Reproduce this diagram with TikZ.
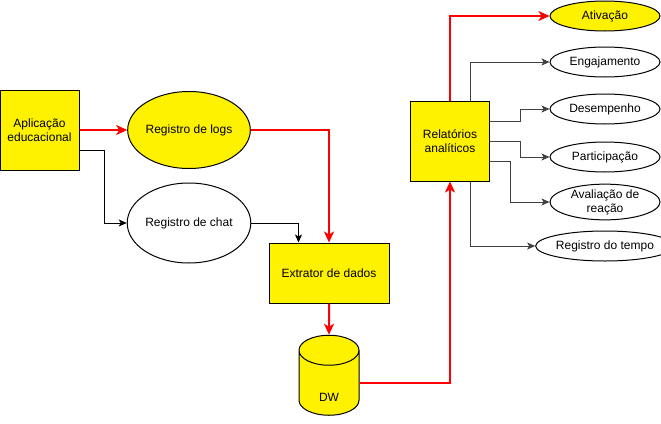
\documentclass[tikz,border=0pt]{standalone}
\usepackage{fontspec}
\setmainfont{Liberation Sans}
\usetikzlibrary{arrows.meta,shapes.geometric,calc}

\begin{document}
\begin{tikzpicture}[x=1pt, y=-1pt,
    txt/.style={align=center, inner sep=0pt, font=\fontsize{12}{14}\selectfont},
    ybox/.style={txt, rectangle, draw, fill=yellow, line width=1pt},
    yell/.style={txt, ellipse, draw, fill=yellow, line width=1pt},
    well/.style={txt, ellipse, draw, fill=white, line width=1pt, minimum width=110, minimum height=30},
    redline/.style={draw=red, line width=2pt, -{Stealth[length=11pt, width=10pt, inset=3pt]}},
    blkline/.style={draw=black, line width=1pt, -{Stealth[length=8pt, width=7pt, inset=2pt]}},
    gryline/.style={draw=black!75, line width=1pt, -{Stealth[length=8pt, width=7pt, inset=2pt]}}
]
    \useasboundingbox (0,0) rectangle (661,423);

    \node[ybox, minimum width=79, minimum height=80] (app) at (39.5, 130) {Aplicação\\educacional};
    \node[yell, minimum width=120, minimum height=77] (logs) at (189, 130) {Registro de logs};
    \node[txt, ellipse, draw, line width=1pt, minimum width=120, minimum height=80] (chat) at (189, 223) {Registro de chat};
    \node[ybox, minimum width=120, minimum height=60] (ext) at (329, 273) {Extrator de dados};
    \node[txt, cylinder, shape border rotate=90, aspect=1.5, draw, fill=yellow, line width=1pt,
        minimum width=60, minimum height=80] (dw) at (329, 383) {\raisebox{-18pt}[0pt][0pt]{DW}};
    \node[ybox, minimum width=79, minimum height=80] (rel) at (450, 141) {Relatórios\\analíticos};

    \node[yell, minimum width=110, minimum height=30] (ativ) at (605, 16) {Ativação};
    \node[well] (eng) at (605, 62) {Engajamento};
    \node[well] (des) at (605, 109) {Desempenho};
    \node[well] (part) at (605, 157) {Participação};
    \node[well] (aval) at (605, 202) {Avaliação de\\reação};
    \node[well] (tempo) at (605, 246) {Registro do tempo};

    \draw[redline] (app.east) -- (logs.west);
    \draw[blkline] ($(app.east)+(0,20)$) -- ++(25,0) |- (chat.west);
    \draw[blkline] (chat.east) -| ($(ext.north west)+(30,0)$);
    \draw[redline] (logs.east) -| (ext.north);
    \draw[redline] (ext.south) -- (dw.north);
    \draw[redline] (dw.east) -| (rel.south);
    \draw[redline] (rel.north) |- (ativ.west);

    \draw[gryline] ($(rel.north)+(20,0)$) |- (eng.west);
    \draw[gryline] ($(rel.east)+(0,-20)$) -- ++(30,0) |- (des.west);
    \draw[gryline] (rel.east) -- ++(30,0) |- (part.west);
    \draw[gryline] ($(rel.east)+(0,20)$) -- ++(20,0) |- (aval.west);
    \draw[gryline] ($(rel.south)+(20,0)$) |- (tempo.west);
\end{tikzpicture}
\end{document}
